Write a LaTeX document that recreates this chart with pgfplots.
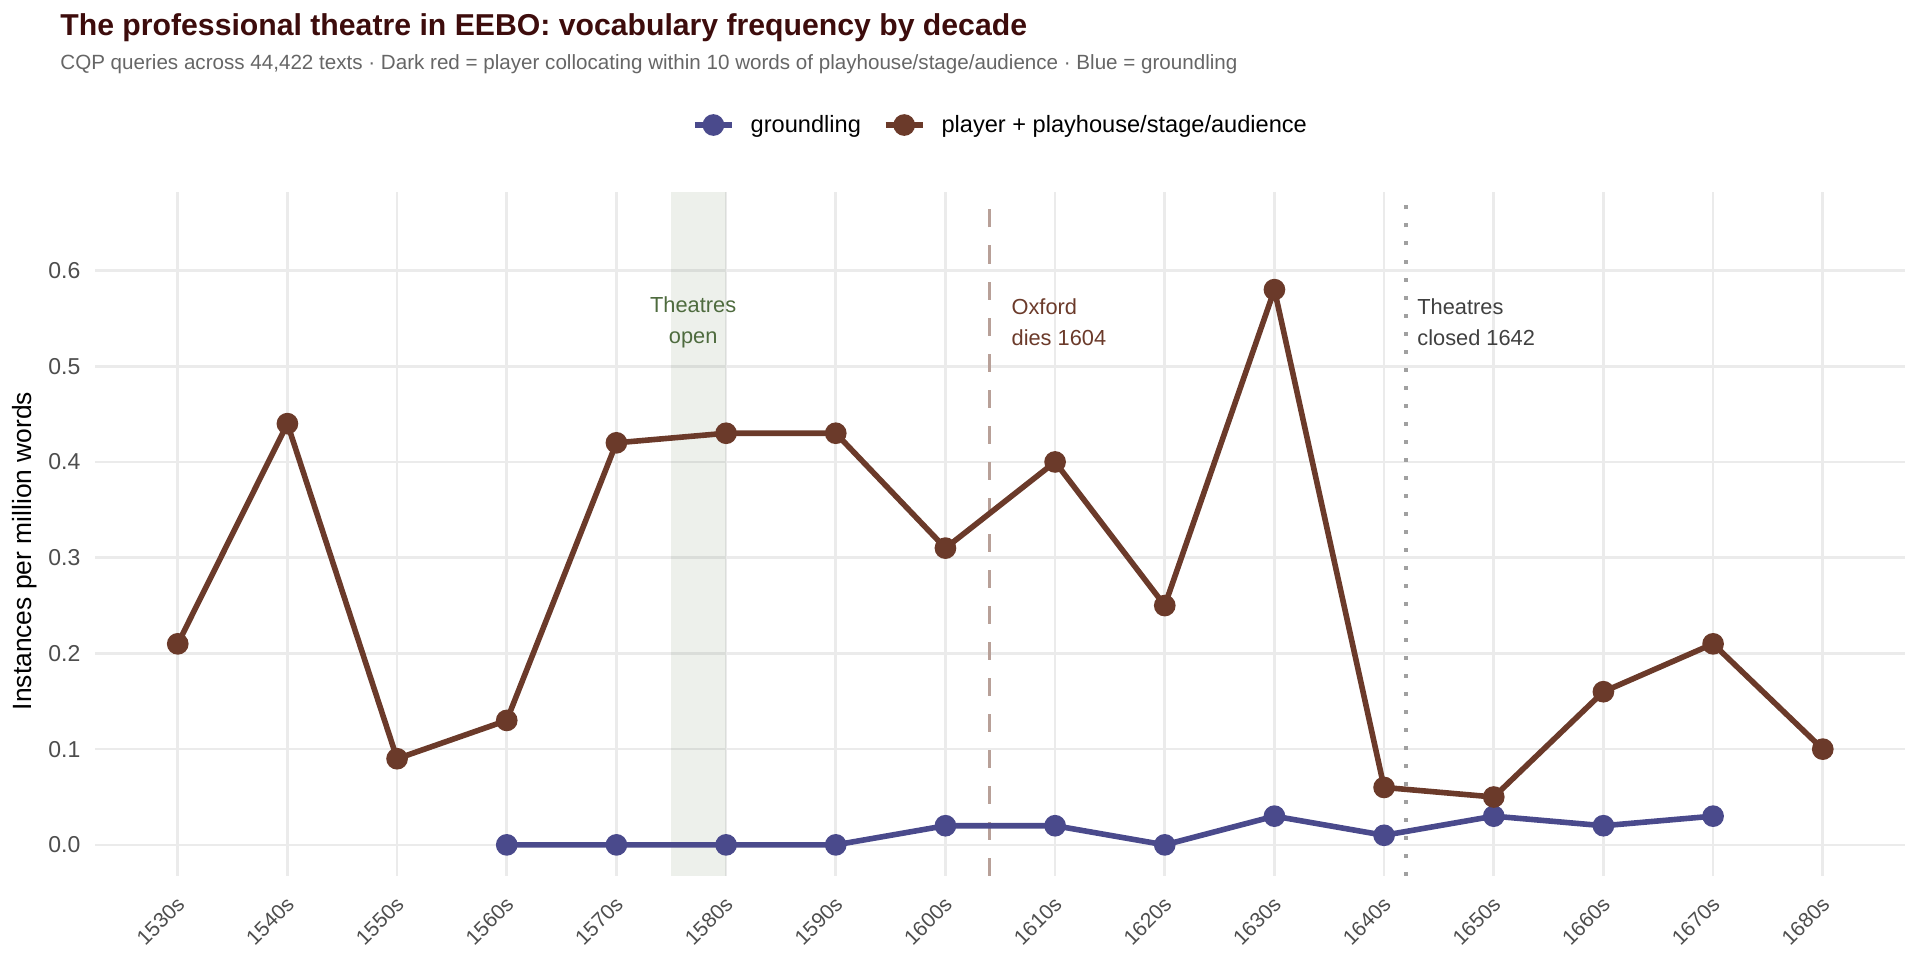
\documentclass[border=0pt]{standalone}
\usepackage{pgfplots}
\pgfplotsset{compat=1.18}
\usepackage{fontspec}
\setmainfont{Liberation Sans}
\definecolor{player}{HTML}{6B3A2A}
\definecolor{ground}{HTML}{4A4A8C}
\definecolor{titlecol}{HTML}{3D0C0C}
\definecolor{subcol}{HTML}{666666}
\definecolor{tickcol}{HTML}{4D4D4D}
\definecolor{gridcol}{HTML}{EBEBEB}
\definecolor{opencol}{HTML}{4E6B3E}
\definecolor{oxfordline}{HTML}{B8A098}
\definecolor{closedline}{HTML}{A0A0A0}
\definecolor{closedtext}{HTML}{404040}

\pgfplotstableread{
year val
1560 0.00
1570 0.00
1580 0.00
1590 0.00
1600 0.02
1610 0.02
1620 0.00
1630 0.03
1640 0.01
1650 0.03
1660 0.02
1670 0.03
}\groundling

\pgfplotstableread{
year val
1530 0.21
1540 0.44
1550 0.09
1560 0.13
1570 0.42
1580 0.43
1590 0.43
1600 0.31
1610 0.40
1620 0.25
1630 0.58
1640 0.06
1650 0.05
1660 0.16
1670 0.21
1680 0.10
}\player

\begin{document}
\begin{tikzpicture}
\useasboundingbox (-47.75pt,-42.25pt) rectangle (912.25pt,437.75pt);
\begin{axis}[
  scale only axis, width=904.75pt, height=341.75pt,
  xmin=1522.5, xmax=1687.5, ymin=-0.032, ymax=0.682,
  axis line style={draw=none}, major tick length=0pt,
  xtick={1530,1540,1550,1560,1570,1580,1590,1600,1610,1620,1630,1640,1650,1660,1670,1680},
  xticklabels={1530s,1540s,1550s,1560s,1570s,1580s,1590s,1600s,1610s,1620s,1630s,1640s,1650s,1660s,1670s,1680s},
  ytick={0,0.1,0.2,0.3,0.4,0.5,0.6},
  yticklabels={0.0,0.1,0.2,0.3,0.4,0.5,0.6},
  grid=major, grid style={gridcol, line width=1.3pt},
  xticklabel style={xshift=-1.2pt, yshift=-9.8pt, rotate=45, anchor=north east, inner sep=0pt, font=\fontsize{10.5}{12}\selectfont, text=tickcol},
  yticklabel style={anchor=east, inner sep=0pt, xshift=-7.35pt, font=\fontsize{11.5}{13}\selectfont, text=tickcol},
  clip=false,
  legend columns=2,
  legend style={at={(0.5007,1.098)}, anchor=center, draw=none, fill=none, inner sep=0pt,
    font=\fontsize{11.8}{14}\selectfont,
    /tikz/every odd column/.append style={column sep=6pt},
    /tikz/every even column/.append style={column sep=9pt}},
  legend cell align=left,
  legend image code/.code={\draw[mark repeat=2, mark phase=2, #1] plot coordinates {(0pt,0pt) (9.25pt,0pt) (18.5pt,0pt)};},
]
\fill[opencol, fill opacity=0.1] (axis cs:1575,-0.032) rectangle (axis cs:1580,0.682);
\draw[oxfordline, line width=1.5pt, dash pattern=on 9pt off 9pt] (axis cs:1604,-0.032) -- (axis cs:1604,0.682);
\draw[closedline, line width=2pt, dash pattern=on 2pt off 7pt] (axis cs:1642,-0.032) -- (axis cs:1642,0.682);

\addplot[ground, line width=2.8pt, mark=*, mark size=4pt, mark options={solid}] table[x=year, y=val] {\groundling};
\addlegendentry{groundling}
\addplot[player, line width=2.8pt, mark=*, mark size=4pt, mark options={solid}] table[x=year, y=val] {\player};
\addlegendentry{player + playhouse/stage/audience}

\node[opencol, align=center, font=\fontsize{10.9}{15.3}\selectfont, anchor=center] at (axis cs:1577,0.546) {Theatres\\open};
\node[player, align=left, font=\fontsize{10.9}{15.3}\selectfont, anchor=west, inner sep=0pt] at (axis cs:1606,0.546) {Oxford\\dies 1604};
\node[closedtext, align=left, font=\fontsize{10.9}{15.3}\selectfont, anchor=west, inner sep=0pt] at (axis cs:1643,0.546) {Theatres\\closed 1642};
\end{axis}
\node[anchor=base west, inner sep=0pt, text=titlecol, font=\fontsize{15.1}{18}\selectfont\bfseries] at (-17.75pt,420pt) {The professional theatre in EEBO: vocabulary frequency by decade};
\node[anchor=base west, inner sep=0pt, text=subcol, font=\fontsize{10.3}{12}\selectfont] at (-17.75pt,402.9pt) {CQP queries across 44,422 texts · Dark red = player collocating within 10 words of playhouse/stage/audience · Blue = groundling};
\node[rotate=90, anchor=center, inner sep=0pt, font=\fontsize{13.2}{15}\selectfont] at (-35.5pt,162.25pt) {Instances per million words};
\end{tikzpicture}
\end{document}
